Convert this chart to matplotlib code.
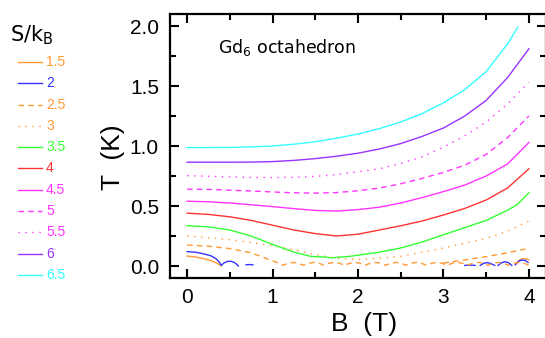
import numpy as np
import matplotlib
matplotlib.use("Agg")
import matplotlib.pyplot as plt
from matplotlib.lines import Line2D
from matplotlib.ticker import MultipleLocator

plt.rcParams['font.family'] = ['Liberation Sans', 'DejaVu Sans']

nan = np.nan
# ---- data ----
B_grid = [0, 0.25, 0.5, 0.75, 1.0, 1.25, 1.5, 1.75, 2.0, 2.25, 2.5, 2.75, 3.0, 3.25, 3.5, 3.75, 4.0]

B_65 = [0, 0.25, 0.5, 0.75, 1.0, 1.25, 1.5, 1.75, 2.0, 2.25, 2.5, 2.75, 3.0, 3.25, 3.5, 3.75, 3.87]
T_65 = [0.987, 0.987, 0.988, 0.993, 1.0, 1.015, 1.035, 1.065, 1.10, 1.145, 1.20, 1.27, 1.36, 1.47, 1.62, 1.85, 1.99]
T_60 = [0.865, 0.865, 0.865, 0.866, 0.87, 0.88, 0.895, 0.915, 0.94, 0.975, 1.02, 1.08, 1.15, 1.25, 1.38, 1.57, 1.81]
T_55 = [0.753, 0.748, 0.742, 0.738, 0.737, 0.739, 0.747, 0.762, 0.785, 0.81, 0.855, 0.91, 0.99, 1.085, 1.20, 1.35, 1.53]
T_50 = [0.64, 0.638, 0.632, 0.625, 0.617, 0.61, 0.607, 0.612, 0.627, 0.65, 0.685, 0.73, 0.78, 0.84, 0.93, 1.07, 1.25]
T_45 = [0.54, 0.535, 0.525, 0.51, 0.495, 0.478, 0.463, 0.458, 0.47, 0.49, 0.525, 0.57, 0.62, 0.675, 0.75, 0.85, 1.03]
T_40 = [0.44, 0.43, 0.41, 0.38, 0.34, 0.30, 0.27, 0.25, 0.265, 0.30, 0.335, 0.375, 0.425, 0.48, 0.55, 0.65, 0.81]

B_35 = [0, 0.25, 0.5, 0.75, 1.0, 1.25, 1.45, 1.6, 1.7, 1.8, 1.9, 2.0, 2.25, 2.5, 2.75, 3.0, 3.25, 3.5, 3.75, 3.86, 4.0]
T_35 = [0.336, 0.326, 0.30, 0.25, 0.18, 0.115, 0.08, 0.075, 0.068, 0.075, 0.08, 0.09, 0.115, 0.15, 0.20, 0.26, 0.32, 0.38, 0.465, 0.51, 0.61]

T_30 = [0.25, 0.235, 0.22, 0.195, 0.17, 0.135, 0.095, 0.065, 0.055, 0.065, 0.08, 0.115, 0.15, 0.19, 0.23, 0.29, 0.375]

B_25 = [0, 0.25, 0.5, 0.75, 0.9, 1.05,
        1.12, 1.18, 1.24, 1.30, 1.36, 1.42, 1.48,
        1.54, 1.60, 1.66, 1.72, 1.78, 1.84, 1.90, 1.96, 2.02, 2.08, 2.14, 2.20, 2.26, 2.32,
        2.38, 2.44, 2.50, 2.56, 2.62, 2.68, 2.74, 2.80, 2.86, 2.92, 2.98, 3.04, 3.10, 3.16,
        3.22, 3.28, 3.34, 3.40, 3.46, 3.52, 3.58, 3.64, 3.70, 3.76, 3.82, 3.88, 3.94, 4.0,
        nan,
        3.0, 3.25, 3.5, 3.75, 4.0]
T_25 = [0.175, 0.165, 0.145, 0.11, 0.07, 0.03,
        0.006, 0.022, 0.03, 0.024, 0.006, 0.022, 0.03,
        0.024, 0.006, 0.022, 0.03, 0.024, 0.006, 0.022, 0.03, 0.024, 0.006, 0.022, 0.03, 0.024, 0.006,
        0.022, 0.03, 0.024, 0.006, 0.022, 0.03, 0.024, 0.006, 0.022, 0.03, 0.024, 0.006, 0.022, 0.03,
        0.024, 0.006, 0.022, 0.03, 0.024, 0.006, 0.022, 0.03, 0.024, 0.006, 0.022, 0.03, 0.024, 0.006,
        nan,
        0.025, 0.05, 0.078, 0.11, 0.147]

B_20 = [0, 0.1, 0.2, 0.28, 0.34, 0.38, 0.40, 0.43, 0.47, 0.51, 0.55, 0.58, 0.60, nan,
        0.69, 0.73, 0.77, nan,
        3.25, 3.31, 3.37, nan,
        3.43, 3.47, 3.51, 3.55, 3.60, nan,
        3.64, 3.68, 3.72, 3.76, 3.80, nan,
        3.84, 3.88, 3.92, 3.96, 3.99]
T_20 = [0.12, 0.115, 0.10, 0.085, 0.06, 0.03, 0.005, 0.025, 0.038, 0.04, 0.03, 0.015, 0.0, nan,
        0.01, 0.012, 0.01, nan,
        0.005, 0.008, 0.005, nan,
        0.005, 0.022, 0.028, 0.022, 0.005, nan,
        0.005, 0.028, 0.036, 0.028, 0.005, nan,
        0.01, 0.04, 0.05, 0.045, 0.03]

B_15 = [0, 0.1, 0.2, 0.28, 0.33, 0.37, 0.40, nan, 3.86, 3.90, 3.94, 3.98, 4.0]
T_15 = [0.083, 0.075, 0.06, 0.045, 0.03, 0.015, 0.0, nan, 0.03, 0.055, 0.062, 0.058, 0.05]

S_labels = ['1.5', '2', '2.5', '3', '3.5', '4', '4.5', '5', '5.5', '6', '6.5']
x_ticks = [0, 1, 2, 3, 4]
y_ticks = [0.0, 0.5, 1.0, 1.5, 2.0]

ORANGE = '#FF9933'
BLUE = '#3333FF'
GREEN = '#33FF33'
RED = '#FF3333'
MAG = '#FF33FF'
PURPLE = '#9933FF'
CYAN = '#33FFFF'

series = [
    (B_15, T_15, ORANGE, '-'),
    (B_20, T_20, BLUE, '-'),
    (B_25, T_25, ORANGE, (0, (4, 3))),
    (B_grid, T_30, ORANGE, (0, (1, 4))),
    (B_35, T_35, GREEN, '-'),
    (B_grid, T_40, RED, '-'),
    (B_grid, T_45, MAG, '-'),
    (B_grid, T_50, MAG, (0, (4, 3))),
    (B_grid, T_55, MAG, (0, (1, 4))),
    (B_grid, T_60, PURPLE, '-'),
    (B_65, T_65, CYAN, '-'),
]

W, H = 545, 338
fig = plt.figure(figsize=(W / 100, H / 100), dpi=100)
ax = fig.add_axes([170 / W, 60 / H, 376 / W, 264 / H])

for b, t, c, ls in series:
    ax.plot(b, t, color=c, linestyle=ls, lw=1.0)

ax.set_xlim(-0.2, 4.2)
ax.set_ylim(-0.1, 2.1)
ax.set_xticks(x_ticks)
ax.set_xticklabels([str(v) for v in x_ticks])
ax.set_yticks(y_ticks)
ax.set_yticklabels([f'{v:.1f}' for v in y_ticks])
ax.xaxis.set_minor_locator(MultipleLocator(0.5))
ax.yaxis.set_minor_locator(MultipleLocator(0.25))
ax.tick_params(which='both', direction='in', top=True, right=True, width=1.5)
ax.tick_params(which='major', length=6.5, labelsize=15)
ax.tick_params(which='minor', length=4)
ax.tick_params(axis='x', which='major', pad=7)
ax.tick_params(axis='y', which='major', pad=8)
for s in ax.spines.values():
    s.set_linewidth(1.6)

ax.set_xlabel('B  (T)', fontsize=19)
ax.xaxis.label.set_va('center')
ax.xaxis.set_label_coords((364 - 170) / 376, (278 - 324) / 264)
ax.set_ylabel('T  (K)', fontsize=19)
ax.yaxis.label.set_va('center')
ax.yaxis.set_label_coords((113 - 170) / 376, (278 - 157) / 264)

ax.text((218 - 170) / 376, (278 - 47) / 264, r'Gd$_6$ octahedron', fontsize=12.5,
        family='DejaVu Sans', transform=ax.transAxes, ha='left', va='center')

# legend (drawn in figure pixel coordinates)
fig.text(10 / W, 1 - 35 / H, r'S/k$_\mathrm{B}$', fontsize=15, family='DejaVu Sans',
         ha='left', va='center')
for i, (lab, (_, _, c, ls)) in enumerate(zip(S_labels, series)):
    y = 1 - (62 + 21.3 * i) / H
    fig.add_artist(Line2D([18 / W, 42 / W], [y, y], color=c, linestyle=ls, lw=1.0,
                          transform=fig.transFigure))
    fig.text(46 / W, y, lab, color=c, fontsize=10, ha='left', va='center')

fig.savefig('out.png', dpi=100)
